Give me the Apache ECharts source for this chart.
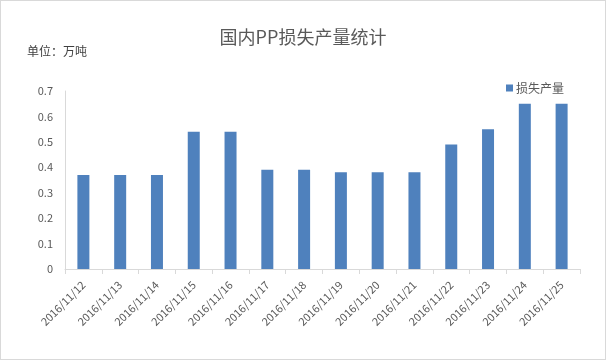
<!DOCTYPE html>
<html><head><meta charset="utf-8">
<script src="https://cdn.jsdelivr.net/npm/echarts@6/dist/echarts.min.js"></script>
<style>html,body{margin:0;padding:0;background:#fff}#c{width:606px;height:360px;box-sizing:border-box;border:1px solid #d9d9d9}</style>
</head><body><div id="c"></div>
<script>
const categories = ['2016/11/12','2016/11/13','2016/11/14','2016/11/15','2016/11/16','2016/11/17','2016/11/18','2016/11/19','2016/11/20','2016/11/21','2016/11/22','2016/11/23','2016/11/24','2016/11/25'];
const lossOutput = [0.37,0.37,0.37,0.54,0.54,0.39,0.39,0.38,0.38,0.38,0.49,0.55,0.65,0.65];
const yTicks = {min:0, max:0.7, interval:0.1};
const chart = echarts.init(document.getElementById('c'));
const font = '"Microsoft YaHei","Noto Sans CJK SC",sans-serif';
chart.setOption({
  animation:false,
  textStyle:{fontFamily:font},
  title:[
    {text:'国内PP损失产量统计', left:'center', top:22, textStyle:{fontSize:18, fontWeight:'normal', color:'#595959', fontFamily:font}},
    {text:'单位：万吨', left:21, top:39, textStyle:{fontSize:12, fontWeight:'normal', color:'#404040', fontFamily:font}}
  ],
  legend:{right:36, top:76, itemWidth:7, itemHeight:7, itemGap:4, icon:'rect', textStyle:{fontSize:12, color:'#595959', padding:[0,0,0,-2]}, data:['损失产量']},
  grid:{left:64, right:25, top:90, bottom:90, containLabel:false},
  xAxis:{type:'category', data:categories,
    axisLine:{lineStyle:{color:'#d9d9d9'}},
    axisTick:{show:true, alignWithLabel:false, lineStyle:{color:'#d9d9d9'}},
    axisLabel:{rotate:45, fontSize:11, color:'#595959', margin:14, interval:0}},
  yAxis:{type:'value', min:yTicks.min, max:yTicks.max, interval:yTicks.interval,
    axisLine:{show:true, lineStyle:{color:'#d9d9d9'}},
    axisTick:{show:false}, splitLine:{show:false},
    axisLabel:{fontSize:11, color:'#595959', margin:12, formatter:v=>String(Math.round(v*10)/10)}},
  series:[{name:'损失产量', type:'bar', data:lossOutput, barWidth:12, itemStyle:{color:'#4f81bd'}}]
});
</script></body></html>
